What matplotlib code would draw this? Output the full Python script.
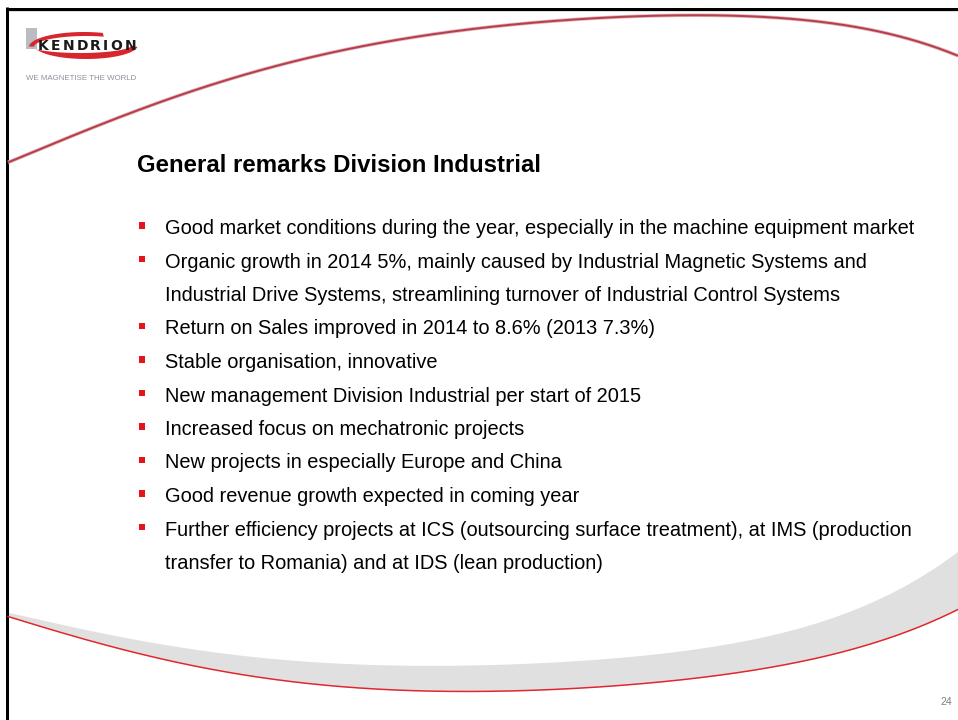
import numpy as np
import matplotlib.pyplot as plt

plt.rcParams['font.family'] = ['Liberation Sans', 'DejaVu Sans']

title = 'General remarks Division Industrial'
bullets = [
    ['Good market conditions during the year, especially in the machine equipment market'],
    ['Organic growth in 2014 5%, mainly caused by Industrial Magnetic Systems and',
     'Industrial Drive Systems, streamlining turnover of Industrial Control Systems'],
    ['Return on Sales improved in 2014 to 8.6% (2013 7.3%)'],
    ['Stable organisation, innovative'],
    ['New management Division Industrial per start of 2015'],
    ['Increased focus on mechatronic projects'],
    ['New projects in especially Europe and China'],
    ['Good revenue growth expected in coming year'],
    ['Further efficiency projects at ICS (outsourcing surface treatment), at IMS (production',
     'transfer to Romania) and at IDS (lean production)'],
]
page_no = '24'

# decorative swoosh curves of the slide template (pixel coords, y down)
top_x = [8, 100, 200, 300, 400, 500, 600, 700, 800, 900, 958]
top_y = [163, 123, 90, 60, 40, 24, 18, 16, 21, 34, 57]
band_x = [8, 100, 200, 300, 450, 560, 650, 750, 850, 917, 958]
band_top = [612, 633, 650, 660, 665, 663, 655, 637, 612, 580, 550]
band_red = [616, 645, 666, 682, 692, 690, 683, 669, 650, 630, 608]

W, H = 958, 720
fig = plt.figure(figsize=(W / 100, H / 100), dpi=100)
ax = fig.add_axes([0, 0, 1, 1])
ax.set_xlim(0, W)
ax.set_ylim(H, 0)
ax.axis('off')

px = 0.72  # points per pixel


def smooth(x, xp, fp, deg=5):
    xp = np.asarray(xp, float)
    c = np.polyfit(xp / W, fp, deg)
    return np.polyval(c, x / W)


# slide frame
ax.plot([6, W], [8.5, 8.5], color='black', lw=3 * px, solid_capstyle='butt')
ax.plot([6, W], [11, 11], color='#dddddd', lw=1 * px)
ax.plot([7.5, 7.5], [7, H], color='black', lw=3 * px, solid_capstyle='butt')

# top red arc
xs = np.linspace(8, W, 951)
ys = smooth(xs, top_x, top_y)
ax.plot(xs, ys, color='#e7b3b8', lw=3.6 * px, solid_capstyle='butt')
ax.plot(xs, ys, color='#b3404c', lw=2.0 * px, solid_capstyle='butt')

# bottom grey band with red edge
yt = smooth(xs, band_x, band_top)
yr = smooth(xs, band_x, band_red)
ax.fill_between(xs, yt, yr, color='#e0e0e0', lw=0)
ax.plot(xs, yr, color='#e3262b', lw=1.5 * px)

# logo
ax.add_patch(plt.Rectangle((26, 28), 11, 21, color='#b9bcc3', lw=0))
t = np.radians(np.linspace(70, 178, 60))
xo, yo = 84 + 55 * np.cos(t), 47 - 15 * np.sin(t)
xi, yi = 86 + 52 * np.cos(t[::-1]), 47 - 11 * np.sin(t[::-1])
ax.fill(np.r_[xo, xi], np.r_[yo, yi], color='#d8262e', lw=0)
t = np.radians(np.linspace(200, 352, 60))
xo, yo = 86 + 52 * np.cos(t), 45 - 14 * np.sin(t)
xi, yi = 80 + 52 * np.cos(t[::-1]), 45 - 8 * np.sin(t[::-1])
ax.fill(np.r_[xo, xi], np.r_[yo, yi], color='#d8262e', lw=0)
letters = 'KENDRION'
adv = np.array([0.775, 0.683, 0.837, 0.830, 0.770, 0.372, 0.850, 0.837])
em = 10 / px
gap = (98 - adv.sum() * em) / (len(letters) - 1)
lx = 38 + np.r_[0, np.cumsum(adv[:-1] * em + gap)]
for ch, x in zip(letters, lx):
    ax.text(x, 49.5, ch, fontsize=10, fontweight='bold', color='#1a1a1a',
            va='baseline', ha='left', family=['DejaVu Sans'])
ax.text(26, 80.5, 'WE MAGNETISE THE WORLD', fontsize=5.65, color='#8c919a',
        va='baseline', ha='left')

# title and bullets
ax.text(137, 172, title, fontsize=17.3, fontweight='bold', color='black',
        va='baseline', ha='left')

base = 234
step = 33.5
row = 0
for item in bullets:
    y0 = base + row * step
    ax.add_patch(plt.Rectangle((139, y0 - 12), 6.5, 6.5, color='#e3141c', lw=0))
    for ln in item:
        ax.text(165, base + row * step, ln, fontsize=14.4, color='black',
                va='baseline', ha='left')
        row += 1

ax.text(952, 705, page_no, fontsize=7.5, color='#7f7f7f', va='baseline', ha='right')

fig.savefig('out.png', dpi=100, facecolor='white')
